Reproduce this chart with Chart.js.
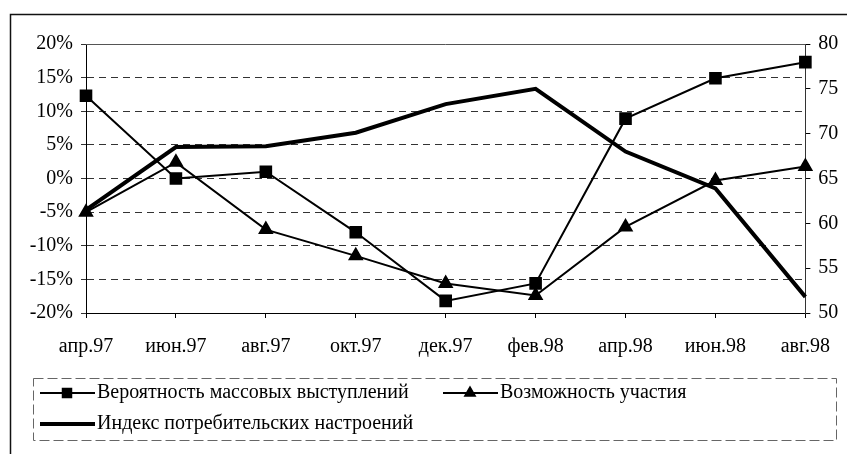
<!DOCTYPE html>
<html>
<head>
<meta charset="utf-8">
<script src="https://cdn.jsdelivr.net/npm/chart.js@4/dist/chart.umd.min.js"></script>
<style>
  html, body { margin: 0; padding: 0; background: #fff; }
  #wrap { width: 847px; height: 454px; position: relative; }
</style>
</head>
<body>
<div id="wrap"><canvas id="chart" width="847" height="454"></canvas></div>
<script>
const months = ['апр.97', 'июн.97', 'авг.97', 'окт.97', 'дек.97', 'фев.98', 'апр.98', 'июн.98', 'авг.98'];
const protestLikelihood = [12.3, 0, 1.0, -8.0, -18.2, -15.6, 8.9, 14.9, 17.3];
const participation = [-5.0, 2.4, -7.6, -11.5, -15.6, -17.4, -7.2, -0.3, 1.8];
const consumerIndex = [61.5, 68.5, 68.6, 70.1, 73.3, 75.0, 68.0, 63.9, 51.8];
const leftTicks = [-20, -15, -10, -5, 0, 5, 10, 15, 20];
const rightTicks = [50, 55, 60, 65, 70, 75, 80];

const font = { family: '"Times New Roman", "Liberation Serif", "DejaVu Serif", serif', size: 20 };

// frame, top plot line and the boxed legend underneath
const decor = {
  id: 'decor',
  afterDraw(chart) {
    const ctx = chart.ctx;
    const a = chart.chartArea;
    ctx.save();
    ctx.strokeStyle = '#111';
    ctx.lineWidth = 1.5;
    ctx.beginPath();
    ctx.moveTo(10.5, 460);
    ctx.lineTo(10.5, 14.5);
    ctx.lineTo(850, 14.5);
    ctx.stroke();

    ctx.strokeStyle = '#555';
    ctx.lineWidth = 1;
    ctx.beginPath();
    ctx.moveTo(a.left, Math.round(a.top) + 0.5);
    ctx.lineTo(a.right, Math.round(a.top) + 0.5);
    ctx.stroke();

    // legend box
    ctx.setLineDash([10, 4]);
    ctx.strokeStyle = '#666';
    ctx.strokeRect(33.5, 378.5, 803, 62);
    ctx.setLineDash([]);

    const ds = chart.data.datasets;
    const entries = [
      { d: ds[0], x: 40, y: 393 },
      { d: ds[1], x: 443, y: 393 },
      { d: ds[2], x: 40, y: 424 }
    ];
    ctx.font = font.size + 'px ' + font.family;
    ctx.textBaseline = 'middle';
    ctx.fillStyle = '#000';
    entries.forEach(e => {
      ctx.strokeStyle = '#000';
      ctx.lineWidth = e.d.borderWidth;
      ctx.beginPath();
      ctx.moveTo(e.x, e.y);
      ctx.lineTo(e.x + 55, e.y);
      ctx.stroke();
      if (e.d.pointRadius > 0) {
        Chart.helpers.drawPoint(ctx, {
          pointStyle: e.d.pointStyle, radius: e.d.pointRadius - 1.5, rotation: 0, borderWidth: 1
        }, e.x + 27, e.y);
        ctx.fill();
      }
      ctx.fillText(e.d.label, e.x + 57, e.y);
    });
    ctx.restore();
  }
};

new Chart('chart', {
  type: 'line',
  data: {
    labels: months,
    datasets: [
      {
        label: 'Вероятность массовых выступлений',
        data: protestLikelihood,
        yAxisID: 'y',
        borderColor: '#000',
        backgroundColor: '#000',
        borderWidth: 2,
        pointStyle: 'rect',
        pointRadius: 7.5,
        tension: 0
      },
      {
        label: 'Возможность участия',
        data: participation,
        yAxisID: 'y',
        borderColor: '#000',
        backgroundColor: '#000',
        borderWidth: 2,
        pointStyle: 'triangle',
        pointRadius: 7,
        tension: 0
      },
      {
        label: 'Индекс потребительских настроений',
        data: consumerIndex,
        yAxisID: 'y1',
        borderColor: '#000',
        backgroundColor: '#000',
        borderWidth: 4,
        pointRadius: 0,
        tension: 0
      }
    ]
  },
  options: {
    responsive: false,
    animation: false,
    layout: { padding: { top: 44, left: 0, right: 0, bottom: 0 } },
    plugins: { legend: { display: false }, tooltip: { enabled: false } },
    scales: {
      x: {
        offset: false,
        grid: { drawOnChartArea: false, drawTicks: true, tickLength: 5, color: '#000' },
        border: { color: '#000', width: 1 },
        ticks: { font: font, color: '#000', padding: 17, maxRotation: 0, autoSkip: false },
        afterFit(s) { s.height = 141; }
      },
      y: {
        position: 'left',
        min: -20,
        max: 20,
        afterBuildTicks(s) { s.ticks = leftTicks.map(v => ({ value: v })); },
        grid: { color: '#333', tickLength: 5 },
        border: { color: '#000', width: 1, dash: [7, 5] },
        ticks: { font: font, color: '#000', padding: 8, callback: v => v + '%' },
        afterFit(s) { s.width = 86; }
      },
      y1: {
        position: 'right',
        min: 50,
        max: 80,
        afterBuildTicks(s) { s.ticks = rightTicks.map(v => ({ value: v })); },
        grid: { drawOnChartArea: false, tickLength: 5, color: '#000' },
        border: { color: '#333', width: 1 },
        ticks: { font: font, color: '#000', padding: 8 },
        afterFit(s) { s.width = 38; }
      }
    }
  },
  plugins: [decor]
});
</script>
</body>
</html>
